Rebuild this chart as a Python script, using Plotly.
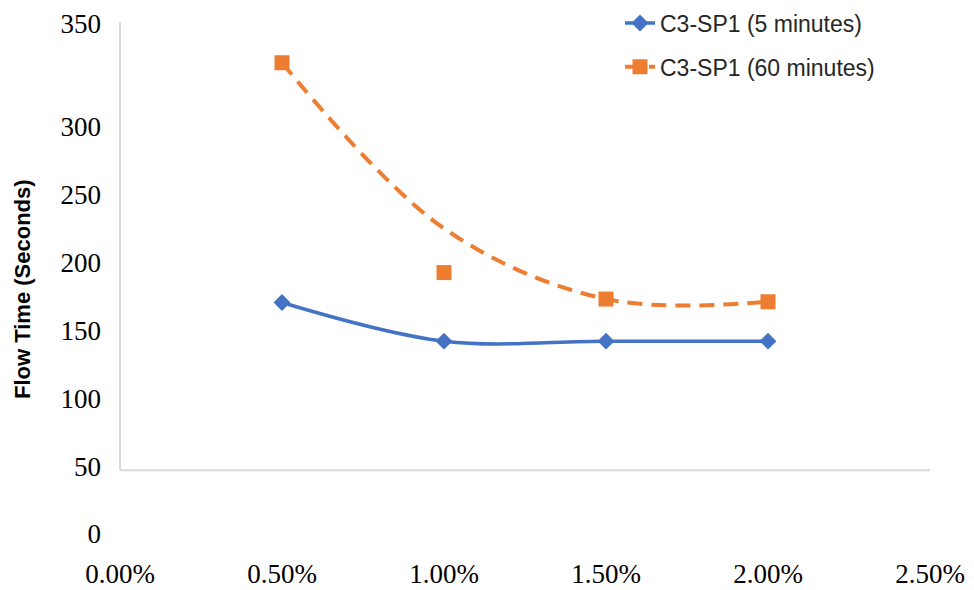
import plotly.graph_objects as go

# ---- data ----
concentration = [0.005, 0.010, 0.015, 0.020]
blue_5min = [170.5, 142, 142, 142]
orange_60min_points = [347, 192.5, 173, 171]
orange_60min_curve = [347, 225, 173, 171]

x_tickvals = [0, 0.005, 0.01, 0.015, 0.02, 0.025]
x_ticktext = ["0.00%", "0.50%", "1.00%", "1.50%", "2.00%", "2.50%"]
y_tickvals = [0, 50, 100, 150, 200, 250, 300, 376]
y_ticktext = ["0", "50", "100", "150", "200", "250", "300", "350"]

BLUE = "#4472C4"
ORANGE = "#ED7D31"
GRID = "#D9D9D9"
SERIF = "Liberation Serif, Times New Roman, serif"
SANS = "Liberation Sans, Arial, sans-serif"

fig = go.Figure()

# blue series
fig.add_trace(go.Scatter(
    x=concentration, y=blue_5min, mode="lines+markers",
    name="C3-SP1 (5 minutes)", legendgroup="a",
    line=dict(color=BLUE, width=3.5, shape="spline", smoothing=1.0),
    marker=dict(symbol="diamond", size=13, color=BLUE),
))

# orange legend entry (line + marker sample)
fig.add_trace(go.Scatter(
    x=[None], y=[None], mode="lines+markers",
    name="C3-SP1 (60 minutes)", legendgroup="b",
    line=dict(color=ORANGE, width=4, dash="15px,9px"),
    marker=dict(symbol="square", size=15, color=ORANGE),
))
# orange dashed curve
fig.add_trace(go.Scatter(
    x=concentration, y=orange_60min_curve, mode="lines",
    showlegend=False, legendgroup="b", hoverinfo="skip",
    line=dict(color=ORANGE, width=4, dash="15px,9px", shape="spline", smoothing=1.0),
))
# orange measured points
fig.add_trace(go.Scatter(
    x=concentration, y=orange_60min_points, mode="markers",
    showlegend=False, legendgroup="b",
    marker=dict(symbol="square", size=15, color=ORANGE),
))

# axis lines (light grey)
fig.add_shape(type="line", xref="paper", yref="y", x0=0, x1=1, y0=47, y1=47,
              line=dict(color=GRID, width=2), layer="below")
fig.add_shape(type="line", xref="paper", yref="paper", x0=0, x1=0, y0=1, y1=(534 - 470) / 512,
              line=dict(color=GRID, width=2), layer="below")

fig.add_annotation(
    text="<b>Flow Time (Seconds)</b>", textangle=-90,
    xref="paper", yref="paper", x=-98 / 810, y=(534 - 289) / 512,
    xanchor="center", yanchor="middle", showarrow=False,
    font=dict(family=SANS, size=22, color="#000000"),
)

fig.update_layout(
    width=966, height=582,
    margin=dict(l=112, r=44, t=14, b=56, autoexpand=False),
    paper_bgcolor="white", plot_bgcolor="white",
    showlegend=True,
    legend=dict(
        x=(620 - 120) / 810, y=1.04, xanchor="left", yanchor="top",
        font=dict(family=SANS, size=23, color="#262626"),
        traceorder="grouped", tracegroupgap=11,
        bgcolor="rgba(0,0,0,0)",
    ),
    xaxis=dict(
        range=[0, 0.025], tickvals=x_tickvals, ticktext=x_ticktext,
        showgrid=False, zeroline=False, showline=False, ticks="",
        ticklabelstandoff=21, automargin=False,
        tickfont=dict(family=SERIF, size=27, color="#000000"),
    ),
    yaxis=dict(
        range=[0, 377], tickvals=y_tickvals, ticktext=y_ticktext,
        showgrid=False, zeroline=False, showline=False, ticks="",
        ticklabelstandoff=18, automargin=False,
        tickfont=dict(family=SERIF, size=27, color="#000000"),
    ),
)

fig.write_html("out.html")
